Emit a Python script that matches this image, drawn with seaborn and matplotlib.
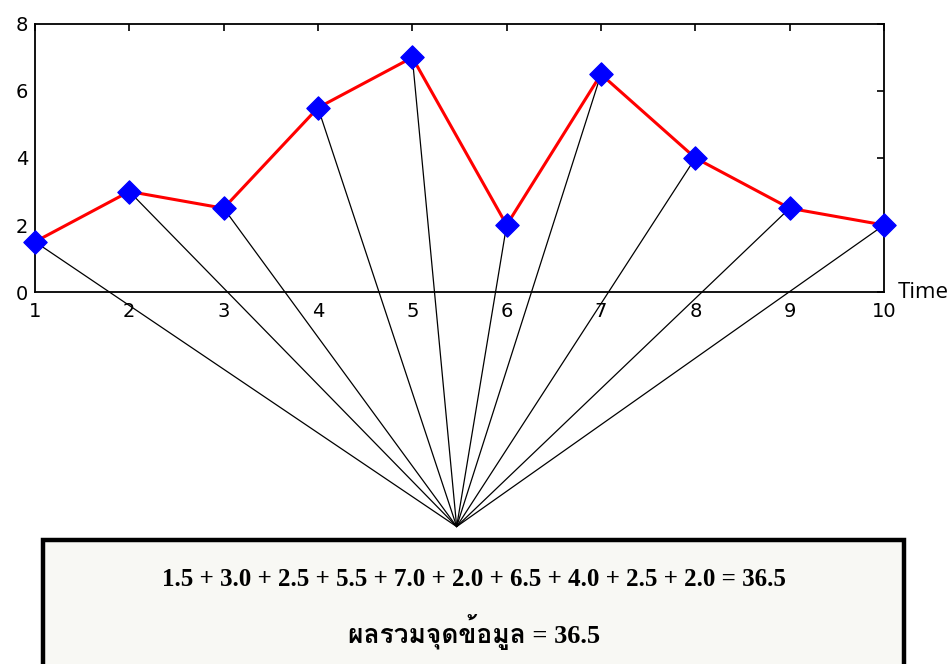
import matplotlib
matplotlib.use("Agg")
import matplotlib.pyplot as plt
from matplotlib import font_manager
from matplotlib.ft2font import FT2Font
from matplotlib.patches import Rectangle
import pandas as pd
import seaborn as sns

# Data
time = [1, 2, 3, 4, 5, 6, 7, 8, 9, 10]
values = [1.5, 3.0, 2.5, 5.5, 7.0, 2.0, 6.5, 4.0, 2.5, 2.0]
x_ticks = [1, 2, 3, 4, 5, 6, 7, 8, 9, 10]
y_ticks = [0, 2, 4, 6, 8]
total_label = "ผลรวมจุดข้อมูล"

# Point below the axes where all the "collector" lines meet (data coords)
hub = (5.47, -7.0)

df = pd.DataFrame({"Time": time, "Value": values})

sns.set_style("white")
plt.rcParams["text.color"] = "black"


def thai_family():
    seen = set()
    for f in font_manager.fontManager.ttflist:
        if f.name in seen:
            continue
        seen.add(f.name)
        try:
            ft = FT2Font(f.fname)
            if ft.get_char_index(0x0E1C) and ft.get_char_index(0x0E25):
                return f.name
        except Exception:
            pass
    return None


thai = thai_family()
families = ["Liberation Serif", "DejaVu Serif"]
if thai:
    families = ["Liberation Serif", thai, "DejaVu Sans"]

fig = plt.figure(figsize=(9.53, 6.64), dpi=100)
ax = fig.add_axes([0.0367, 0.5602, 0.8909, 0.4037])

# lines from each data point down to the hub
for t, v in zip(time, values):
    ax.plot([t, hub[0]], [v, hub[1]], color="black", lw=0.9, clip_on=False, zorder=2)

sns.lineplot(data=df, x="Time", y="Value", ax=ax, color="red", lw=2.2, zorder=3)
sns.scatterplot(data=df, x="Time", y="Value", ax=ax, marker="D", color="blue",
                s=140, edgecolor="blue", zorder=4, clip_on=False)

ax.set_xlim(1, 10)
ax.set_ylim(0, 8)
ax.set_xticks(x_ticks)
ax.set_yticks(y_ticks)
ax.set_xlabel("")
ax.set_ylabel("")
for s in ax.spines.values():
    s.set_linewidth(1.3)
    s.set_color("black")
ax.tick_params(direction="in", length=5, width=1.2, top=True, right=True,
               labelsize=14, colors="black")
ax.tick_params(axis="x", pad=7)
ax.tick_params(axis="y", pad=5)
ax.text(1.016, 0.0, "Time", transform=ax.transAxes, fontsize=16,
        family="Open Sans", ha="left", va="center", color="black")

# summary box
fig.patches.append(Rectangle((0.0456, -0.1), 0.9025, 0.2875, transform=fig.transFigure,
                             facecolor="#f8f8f4", edgecolor="black", lw=3.2, zorder=0))
sum_text = " + ".join(f"{v:.1f}" for v in values) + f" = {sum(values):.1f}"
fig.text(0.4975, 1 - 580 / 664, sum_text, ha="center", va="center", fontsize=18,
         fontweight="bold", family=families, color="black")
fig.text(0.4975, 1 - 632 / 664, f"{total_label} = {sum(values):.1f}", ha="center",
         va="center", fontsize=19, fontweight="bold", family=families, color="black")

fig.savefig("out.png", dpi=100)
